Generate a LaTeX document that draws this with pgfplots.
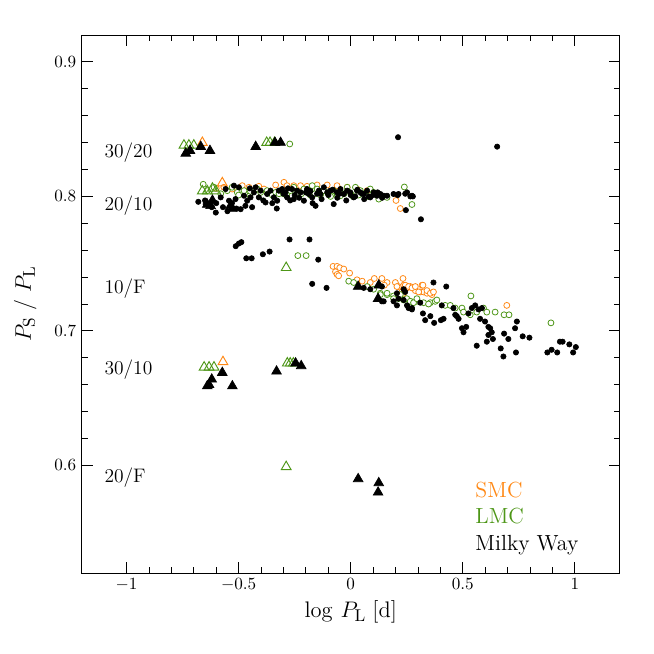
\documentclass[border=0pt]{standalone}
\usepackage{pgfplots}
\pgfplotsset{compat=1.18}
\definecolor{smc}{RGB}{255,136,20}
\definecolor{lmc}{RGB}{77,150,23}
\begin{document}
\begin{tikzpicture}
\path[use as bounding box] (-52.3pt,-51.8pt) rectangle (366.1pt,366.7pt);
\begin{axis}[
    scale only axis,
    width=344.3pt, height=344.3pt,
    xmin=-1.2, xmax=1.2,
    ymin=0.52, ymax=0.92,
    xtick={-1,-0.5,0,0.5,1},
    ytick={0.6,0.7,0.8,0.9},
    minor x tick num=4,
    minor y tick num=4,
    tick align=inside,
    major tick length=7pt,
    minor tick length=3.8pt,
    axis line style={line width=0.6pt},
    every tick/.style={line width=0.6pt, black},
    tick label style={font=\fontsize{11}{13}\selectfont},
    clip=false,
]
% SMC, open circles
\addplot[only marks, mark=*, mark options={fill=white, draw=smc, line width=0.5pt}, mark size=1.9pt] table {
x y
-0.600 0.806
-0.566 0.8068
-0.529 0.8055
-0.484 0.808
-0.454 0.8068
-0.410 0.8075
-0.387 0.8055
-0.335 0.8085
-0.298 0.8105
-0.284 0.808
-0.254 0.808
-0.224 0.808
-0.195 0.8075
-0.150 0.8085
-0.105 0.8085
-0.061 0.808
-0.016 0.8068
0.028 0.8055
0.073 0.8043
0.202 0.797
0.221 0.791
-0.079 0.748
-0.061 0.748
-0.049 0.747
-0.031 0.746
-0.068 0.744
-0.061 0.742
-0.054 0.741
-0.005 0.743
0.028 0.738
0.051 0.737
0.087 0.736
0.105 0.739
0.139 0.739
0.162 0.736
0.199 0.736
0.213 0.733
0.236 0.734
0.251 0.732
0.266 0.733
0.288 0.730
0.310 0.729
0.325 0.729
0.340 0.728
0.362 0.727
0.318 0.734
0.150 0.734
0.206 0.733
0.233 0.739
0.243 0.734
0.258 0.733
0.273 0.732
0.288 0.733
0.322 0.734
0.303 0.729
0.340 0.730
0.355 0.728
0.369 0.729
0.228 0.729
0.236 0.728
0.696 0.719
};
\addplot[only marks, mark=triangle, mark options={draw=smc, line width=0.6pt}, mark size=3.6pt] table {
x y
-0.662 0.840
-0.573 0.810
-0.570 0.677
};
% LMC, open circles
\addplot[only marks, mark=*, mark options={fill=white, draw=lmc, line width=0.5pt}, mark size=1.9pt] table {
x y
-0.272 0.839
-0.658 0.809
-0.640 0.8043
-0.610 0.8068
-0.580 0.802
-0.551 0.8043
-0.529 0.8068
-0.506 0.803
-0.500 0.801
-0.476 0.8043
-0.450 0.801
-0.447 0.8038
-0.417 0.8055
-0.402 0.803
-0.373 0.8043
-0.350 0.801
-0.335 0.803
-0.320 0.802
-0.313 0.8043
-0.300 0.802
-0.285 0.801
-0.269 0.8043
-0.254 0.8068
-0.240 0.802
-0.220 0.802
-0.209 0.8055
-0.195 0.803
-0.180 0.801
-0.172 0.808
-0.160 0.802
-0.150 0.8055
-0.135 0.801
-0.120 0.8043
-0.100 0.802
-0.090 0.800
-0.076 0.8043
-0.060 0.801
-0.050 0.803
-0.046 0.8005
-0.030 0.802
-0.016 0.8068
0.000 0.802
0.010 0.800
0.021 0.8068
0.035 0.801
0.043 0.8043
0.060 0.801
0.075 0.800
0.087 0.8055
0.102 0.803
0.120 0.801
0.125 0.798
0.140 0.800
0.162 0.7993
0.239 0.807
0.273 0.794
-0.236 0.756
-0.199 0.756
-0.009 0.737
0.013 0.736
0.073 0.733
0.102 0.731
0.132 0.728
0.162 0.727
0.191 0.726
0.213 0.724
0.236 0.723
0.266 0.722
0.295 0.722
0.325 0.721
0.355 0.721
0.377 0.722
0.132 0.727
0.162 0.728
0.191 0.724
0.221 0.727
0.250 0.724
0.265 0.722
0.280 0.721
0.295 0.724
0.347 0.720
0.384 0.723
0.421 0.719
0.444 0.719
0.466 0.717
0.496 0.717
0.503 0.714
0.536 0.726
0.533 0.712
0.562 0.714
0.592 0.717
0.607 0.714
0.644 0.714
0.684 0.712
0.706 0.712
0.893 0.706
};
\addplot[only marks, mark=triangle, mark options={draw=lmc, line width=0.6pt}, mark size=3.6pt] table {
x y
-0.744 0.838
-0.722 0.838
-0.700 0.838
-0.375 0.840
-0.360 0.840
-0.340 0.840
-0.662 0.804
-0.640 0.804
-0.617 0.806
-0.602 0.804
-0.288 0.747
-0.654 0.673
-0.632 0.673
-0.610 0.673
-0.283 0.676
-0.270 0.676
-0.256 0.676
-0.288 0.599
};
% Milky Way, filled dots
\addplot[only marks, mark=*, mark options={fill=black, draw=black}, mark size=1.7pt] table {
x y
0.211 0.844
0.653 0.837
-0.680 0.796
-0.650 0.797
-0.647 0.7943
-0.620 0.792
-0.602 0.788
-0.600 0.795
-0.580 0.7993
-0.570 0.792
-0.558 0.8055
-0.550 0.789
-0.543 0.7968
-0.530 0.795
-0.521 0.808
-0.514 0.798
-0.510 0.791
-0.499 0.8068
-0.491 0.7905
-0.476 0.8005
-0.470 0.793
-0.462 0.7968
-0.450 0.806
-0.447 0.7993
-0.440 0.792
-0.432 0.803
-0.424 0.8068
-0.410 0.7993
-0.402 0.8043
-0.390 0.797
-0.380 0.7955
-0.373 0.8018
-0.358 0.8043
-0.350 0.795
-0.343 0.7993
-0.330 0.791
-0.328 0.7968
-0.321 0.8043
-0.306 0.8055
-0.300 0.802
-0.291 0.803
-0.284 0.7993
-0.280 0.806
-0.270 0.797
-0.262 0.8055
-0.254 0.798
-0.250 0.801
-0.239 0.8043
-0.230 0.799
-0.224 0.803
-0.209 0.7968
-0.200 0.803
-0.195 0.8055
-0.187 0.8018
-0.180 0.804
-0.172 0.7993
-0.170 0.795
-0.157 0.793
-0.150 0.802
-0.142 0.8043
-0.135 0.8018
-0.130 0.798
-0.120 0.8068
-0.105 0.803
-0.100 0.801
-0.091 0.8043
-0.080 0.805
-0.076 0.7943
-0.061 0.803
-0.060 0.799
-0.050 0.802
-0.046 0.8055
-0.031 0.8018
-0.020 0.797
-0.016 0.8043
-0.002 0.803
0.000 0.801
0.013 0.7993
0.020 0.800
0.028 0.8043
0.030 0.805
0.043 0.803
0.050 0.802
0.058 0.8018
0.060 0.798
0.073 0.8043
0.080 0.800
0.087 0.7993
0.100 0.801
0.102 0.803
0.117 0.8005
0.120 0.803
0.132 0.8018
0.140 0.799
0.147 0.8005
0.162 0.8005
0.191 0.8018
0.209 0.801
0.213 0.8018
0.243 0.802
0.251 0.803
0.266 0.800
0.273 0.8005
0.277 0.800
0.246 0.7898
0.313 0.783
-0.513 0.763
-0.499 0.765
-0.488 0.766
-0.466 0.754
-0.442 0.754
-0.392 0.757
-0.362 0.759
-0.273 0.768
-0.184 0.768
-0.145 0.753
-0.172 0.735
-0.108 0.732
0.058 0.732
0.087 0.731
0.139 0.733
0.139 0.722
0.147 0.722
0.191 0.722
0.206 0.728
0.206 0.719
0.213 0.724
0.236 0.731
0.236 0.723
0.243 0.729
0.251 0.719
0.258 0.717
0.273 0.717
0.273 0.716
0.310 0.721
0.322 0.713
0.332 0.708
0.355 0.711
0.369 0.736
0.372 0.706
0.426 0.733
0.406 0.719
0.402 0.708
0.414 0.709
0.458 0.717
0.466 0.712
0.473 0.711
0.481 0.709
0.496 0.702
0.503 0.699
0.515 0.703
0.525 0.713
0.540 0.717
0.555 0.719
0.570 0.716
0.585 0.717
0.577 0.709
0.599 0.707
0.614 0.703
0.622 0.702
0.629 0.699
0.614 0.697
0.562 0.689
0.607 0.692
0.634 0.694
0.669 0.687
0.681 0.681
0.684 0.698
0.703 0.694
0.733 0.702
0.741 0.707
0.737 0.684
0.767 0.696
0.797 0.695
0.877 0.684
0.896 0.686
0.921 0.684
0.933 0.692
0.945 0.692
0.975 0.690
0.992 0.684
1.004 0.688
};
\addplot[only marks, mark=triangle*, mark options={fill=black, draw=black}, mark size=3.6pt] table {
x y
-0.736 0.832
-0.717 0.834
-0.669 0.837
-0.628 0.834
-0.424 0.837
-0.338 0.840
-0.313 0.840
-0.640 0.794
-0.617 0.797
-0.625 0.793
-0.536 0.793
-0.528 0.791
0.033 0.733
0.125 0.734
0.122 0.724
-0.620 0.664
-0.632 0.660
-0.640 0.659
-0.573 0.669
-0.528 0.659
-0.331 0.670
-0.246 0.676
-0.221 0.674
0.033 0.590
0.125 0.587
0.122 0.580
};
\begin{scope}[every node/.style={anchor=base west, font=\fontsize{12.5}{15}\selectfont, inner sep=0pt}]
\node at (axis cs:-1.0997,0.8292) {30/20};
\node at (axis cs:-1.0997,0.7893) {20/10};
\node at (axis cs:-1.0997,0.7280) {10/F};
\node at (axis cs:-1.0997,0.6676) {30/10};
\node at (axis cs:-1.0997,0.5874) {20/F};
\end{scope}
\begin{scope}[every node/.style={anchor=base west, font=\fontsize{14}{16}\selectfont, inner sep=0pt}]
\node[text=smc] at (axis cs:0.555,0.5764) {SMC};
\node[text=lmc] at (axis cs:0.555,0.5569) {LMC};
\node[text=black] at (axis cs:0.555,0.5367) {Milky Way};
\end{scope}
\node[font=\fontsize{15}{18}\selectfont] at (axis description cs:0.5,-0.0725) {$\log\,P_{\mathrm{L}}\;[\mathrm{d}]$};
\node[font=\fontsize{15}{18}\selectfont, rotate=90] at (axis description cs:-0.105,0.5) {$P_{\mathrm{S}}\ /\ P_{\mathrm{L}}$};
\end{axis}
\end{tikzpicture}
\end{document}
